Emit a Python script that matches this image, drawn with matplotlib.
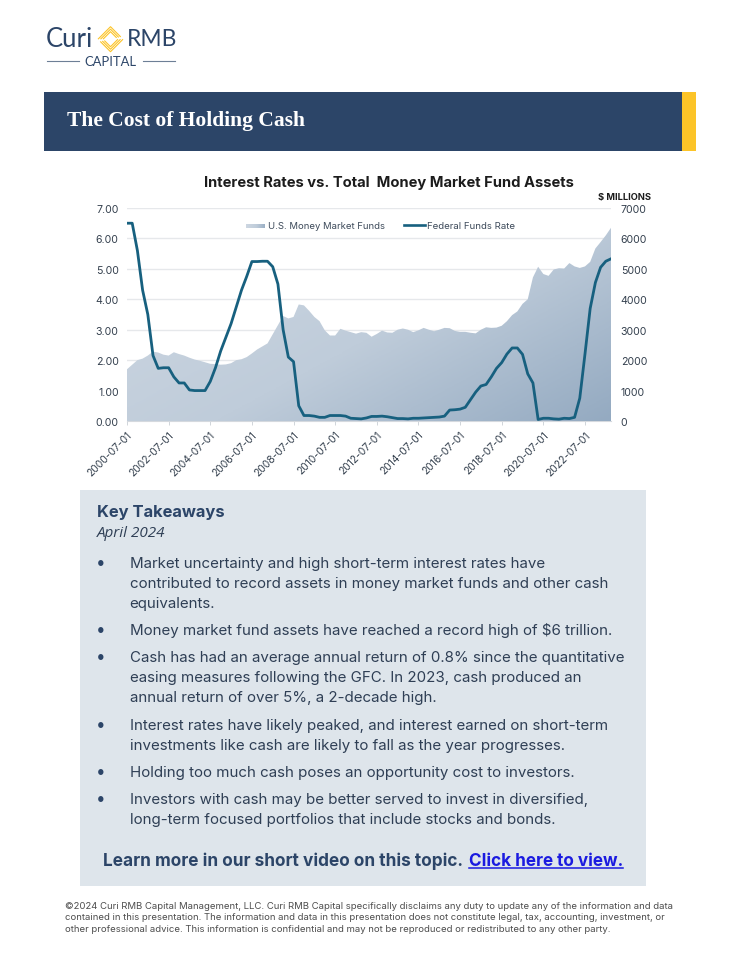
import numpy as np
import matplotlib
matplotlib.use("Agg")
import matplotlib.pyplot as plt
from matplotlib.patches import Rectangle
from matplotlib.colors import LinearSegmentedColormap

W, H = 736, 954

# ---- data (quarterly, 2000-07-01 onward) ----
fed_funds = [6.5,6.5,5.6,4.3,3.5,2.15,1.73,1.75,1.75,1.45,1.25,1.25,1.02,1.0,1.0,1.0,
             1.3,1.75,2.3,2.75,3.2,3.75,4.3,4.75,5.24,5.24,5.25,5.25,5.07,4.5,3.0,2.1,
             1.95,0.5,0.18,0.18,0.16,0.12,0.12,0.18,0.18,0.18,0.16,0.09,0.08,0.07,0.1,0.15,
             0.15,0.16,0.14,0.11,0.08,0.08,0.07,0.09,0.09,0.1,0.11,0.12,0.13,0.16,0.36,0.37,
             0.39,0.45,0.7,0.95,1.15,1.2,1.45,1.73,1.92,2.2,2.4,2.4,2.19,1.55,1.25,0.05,
             0.09,0.09,0.07,0.06,0.09,0.08,0.12,0.75,2.2,3.7,4.55,5.05,5.25,5.33]
mmf_assets = [1700,1850,2000,2050,2150,2280,2250,2180,2150,2260,2200,2150,2080,2020,1980,1930,
              1880,1870,1850,1860,1900,2000,2030,2100,2220,2350,2450,2550,2850,3150,3450,3370,
              3420,3830,3800,3620,3420,3280,2980,2810,2810,3030,2970,2920,2870,2920,2900,2770,
              2860,2970,2910,2900,3000,3040,3000,2920,2980,3060,3000,2950,3000,3060,3050,2960,
              2930,2930,2900,2880,3000,3080,3060,3070,3130,3280,3480,3600,3850,4000,4720,5070,
              4830,4770,4980,5020,5010,5190,5080,5030,5080,5230,5670,5880,6100,6350]
tick_labels = ["2000-07-01","2002-07-01","2004-07-01","2006-07-01","2008-07-01","2010-07-01",
               "2012-07-01","2014-07-01","2016-07-01","2018-07-01","2020-07-01","2022-07-01"]
left_ticks = ["0.00","1.00","2.00","3.00","4.00","5.00","6.00","7.00"]
right_ticks = ["0","1000","2000","3000","4000","5000","6000","7000"]
takeaways = [
    ["Market uncertainty and high short-term interest rates have",
     "contributed to record assets in money market funds and other cash",
     "equivalents."],
    ["Money market fund assets have reached a record high of $6 trillion."],
    ["Cash has had an average annual return of 0.8% since the quantitative",
     "easing measures following the GFC. In 2023, cash produced an",
     "annual return of over 5%, a 2-decade high."],
    ["Interest rates have likely peaked, and interest earned on short-term",
     "investments like cash are likely to fall as the year progresses."],
    ["Holding too much cash poses an opportunity cost to investors."],
    ["Investors with cash may be better served to invest in diversified,",
     "long-term focused portfolios that include stocks and bonds."],
]
takeaway_y = [563, 630, 657, 725, 772, 799]
footer = ["©2024 Curi RMB Capital Management, LLC. Curi RMB Capital specifically disclaims any duty to update any of the information and data",
          "contained in this presentation. The information and data in this presentation does not constitute legal, tax, accounting, investment, or",
          "other professional advice. This information is confidential and may not be reproduced or redistributed to any other party."]

NAVY = "#2c4568"
TEAL = "#17607f"
BODY = "#2f3f55"
FONT = ["Inter", "DejaVu Sans"]

fig = plt.figure(figsize=(W/100, H/100), dpi=100, facecolor="white")

# page overlay in pixel coordinates
page = fig.add_axes([0, 0, 1, 1], zorder=3)
page.patch.set_alpha(0)
page.axis("off")

def pixel_limits():
    page.set_xlim(0, W)
    page.set_ylim(H - 0.7, -0.7)
pixel_limits()

page.add_patch(Rectangle((44, 92), 638, 59, fc=NAVY, ec="none"))
page.add_patch(Rectangle((682, 92), 14, 59, fc="#fcc428", ec="none"))
page.text(67, 120.5, "The Cost of Holding Cash", color="white", fontsize=15.5, fontweight="bold",
          family=["Liberation Serif"], va="center")

# logo
page.text(46, 39, "Curi", color=NAVY, fontsize=18.5, family=["Lato"], va="center")
page.text(127, 39, "RMB", color=NAVY, fontsize=16.5, family=["Lato"], va="center")
page.text(110.5, 61.5, "CAPITAL", color=NAVY, fontsize=9.4, family=["Lato"], va="center", ha="center")
page.plot([47, 79], [61.5, 61.5], color="#6d7f96", lw=0.8)
page.plot([143, 175], [61.5, 61.5], color="#6d7f96", lw=0.8)
cx, cy = 110.5, 39.5
for r in (12.5, 10.0, 7.5):
    for s in (1, -1):
        page.plot([cx - s*r, cx, cx + s*r*0.82],
                  [cy, cy - s*r, cy - s*r*0.18],
                  color="#fcc428", lw=0.8, solid_capstyle="butt", solid_joinstyle="round")

# chart
x0, x1, y0, y1 = 127, 611, 422, 209
ax = fig.add_axes([x0/W, 1-y0/H, (x1-x0)/W, (y0-y1)/H], zorder=2)
ax.patch.set_alpha(0)
n = np.arange(len(fed_funds))
ax.set_xlim(0, len(fed_funds)-1)
ax.set_ylim(0, 7)
ax.set_yticks(range(8))
ax.set_yticklabels(left_ticks)
ax.set_xticks(n[::8])
ax.set_xticklabels(tick_labels, rotation=45, ha="right", rotation_mode="anchor")
ax.tick_params(axis="y", length=0, labelsize=7.6, labelcolor="#333f4d", pad=6)
ax.tick_params(axis="x", length=3, width=0.6, color="#c9ced4", pad=3, labelsize=7.4, labelcolor="#333f4d")
for lbl in ax.get_xticklabels() + ax.get_yticklabels():
    lbl.set_family(FONT)
ax.grid(axis="y", color="#e6e8eb", lw=1)
ax.set_axisbelow(True)
for s in ax.spines.values():
    s.set_visible(False)
ax.spines["bottom"].set_visible(True)
ax.spines["bottom"].set_color("#d5d9de")
ax.spines["bottom"].set_linewidth(0.8)

ax2 = ax.twinx()
ax2.patch.set_alpha(0)
ax2.set_yticks(range(0, 8000, 1000))
ax2.set_yticklabels(right_ticks)
ax2.tick_params(axis="y", length=0, labelsize=7.6, labelcolor="#333f4d", pad=7)
for lbl in ax2.get_yticklabels():
    lbl.set_family(FONT)
for s in ax2.spines.values():
    s.set_visible(False)

cmap = LinearSegmentedColormap.from_list("g", [(0, "#d0d9e3"), (0.55, "#bfccda"), (1, "#94aac1")])
gx, gy = np.meshgrid(np.linspace(0, 1, 200), np.linspace(0, 1, 200))
grad = gx*0.55 + (1-gy)*0.45
img = ax2.imshow(grad, extent=(0, len(n)-1, 0, 7000), origin="lower", cmap=cmap, vmin=0, vmax=1,
                 aspect="auto", zorder=1)
poly = ax2.fill_between(n, mmf_assets, 0, color="none", zorder=1)
img.set_clip_path(poly.get_paths()[0], transform=ax2.transData)
ax2.set_xlim(0, len(n)-1)
ax2.set_ylim(0, 7000)
ax2.plot(n, np.array(fed_funds)*1000, color=TEAL, lw=2.0, zorder=3, solid_joinstyle="round")

# legend and chart titles
page.imshow(np.linspace(0, 1, 30)[None, :], extent=(246, 265, 228.5, 224.5), cmap=cmap,
            vmin=-0.1, vmax=1.1, aspect="auto")
pixel_limits()
page.text(267.5, 225.5, "U.S. Money Market Funds", fontsize=6.85, color="#3d4a5a", family=FONT, va="center")
page.plot([404, 425], [225, 225], color=TEAL, lw=1.9)
page.text(427, 225.5, "Federal Funds Rate", fontsize=6.95, color="#3d4a5a", family=FONT, va="center")
page.text(389, 182, "Interest Rates vs. Total  Money Market Fund Assets", fontsize=10.6, fontweight="bold",
          color="#1c1c1c", family=FONT, ha="center", va="center")
page.text(651, 196.5, "$ MILLIONS", fontsize=6.7, fontweight="bold", color="#1c1c1c", family=FONT, ha="right", va="center")

# takeaways
page.add_patch(Rectangle((80, 490), 566, 396, fc="#dee5eb", ec="none", zorder=0))
page.text(97, 511.5, "Key Takeaways", fontsize=11.9, fontweight="bold", color=NAVY, family=FONT, va="center")
page.text(97, 533, "April 2024", fontsize=11, style="italic", color=BODY, family=["Open Sans"], va="center")
for lines, y in zip(takeaways, takeaway_y):
    page.text(100.5, y, "•", fontsize=12.5, color=NAVY, family=FONT, ha="center", va="center")
    for i, line in enumerate(lines):
        page.text(129.5, y + i*20, line, fontsize=10.87, color=BODY, family=FONT, va="center")
page.text(103, 860.5, "Learn more in our short video on this topic.", fontsize=12.4, fontweight="bold",
          color=NAVY, family=FONT, va="center")
page.text(469, 860.5, "Click here to view.", fontsize=12.35, fontweight="bold", color="#1b1be0",
          family=FONT, va="center")
page.plot([469, 623], [868, 868], color="#1b1be0", lw=1.1)
for i, line in enumerate(footer):
    page.text(65, 905.5 + i*11.5, line, fontsize=6.87, color="#4d4d4d", family=FONT, va="center")

fig.savefig("out.png", dpi=100)
